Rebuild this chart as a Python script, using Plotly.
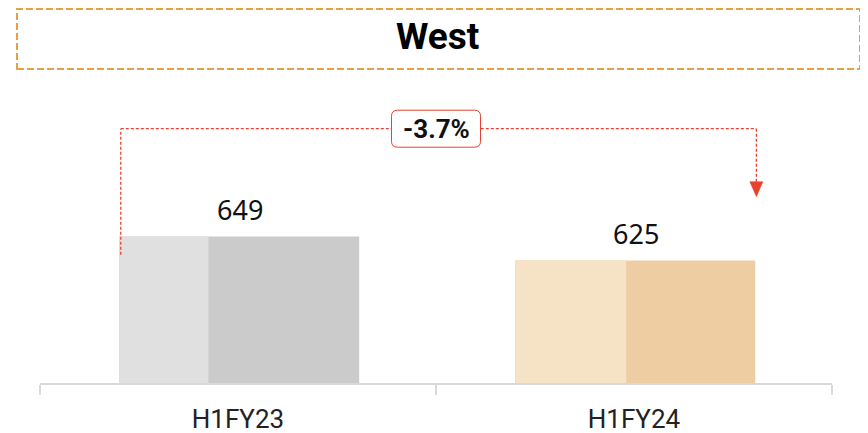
import plotly.graph_objects as go

# ---- data ----
categories = ["H1FY23", "H1FY24"]
values = [649, 625]
change_label = "-3.7%"
title_text = "West"

# ---- styling ----
dark_colors = ["#cbcbcb", "#edcda1"]
light_colors = ["#e0e0e0", "#f6e3c5"]
light_widths = [0.2255, 0.2803]
bar_offset = -0.30
bar_width = 0.606
red = "#e8412f"

y_min = 502.5
y_max = 795.5

fig = go.Figure()

# full bar (darker right part)
fig.add_trace(go.Bar(
    x=categories, y=values,
    width=[bar_width] * len(categories),
    offset=[bar_offset] * len(categories),
    marker=dict(color=dark_colors, line=dict(width=0)),
    hoverinfo="skip", showlegend=False,
))
# lighter left part overlay
fig.add_trace(go.Bar(
    x=categories, y=values,
    width=light_widths,
    offset=[bar_offset] * len(categories),
    marker=dict(color=light_colors, line=dict(width=0)),
    hoverinfo="skip", showlegend=False,
))

annotations = []
for c, v in zip(categories, values):
    annotations.append(dict(
        x=c, y=v, xref="x", yref="y", text=str(v), showarrow=False,
        yanchor="bottom", yshift=7, xshift=2,
        font=dict(family="Noto Sans", size=27, color="#111111"),
    ))

# connector geometry from data
x_left = 0 + bar_offset + 0.004
x_right = 1 + bar_offset + bar_width + 0.003
top_level = max(values) + 107.8
left_bottom = values[0] - 18.2
arrow_tip = values[1] + 63.8

shapes = []
dash = "3px,2px"
shapes.append(dict(type="line", xref="x", yref="y", x0=x_left, x1=x_left,
                   y0=left_bottom, y1=top_level, line=dict(color=red, width=1.3, dash=dash)))
shapes.append(dict(type="line", xref="x", yref="y", x0=x_left, x1=x_right,
                   y0=top_level, y1=top_level, line=dict(color=red, width=1.3, dash=dash)))
shapes.append(dict(type="line", xref="x", yref="y", x0=x_right, x1=x_right,
                   y0=top_level, y1=arrow_tip + 14, line=dict(color=red, width=1.3, dash=dash)))
# arrow head
shapes.append(dict(type="path", xref="x", yref="y", xsizemode="pixel", ysizemode="pixel",
                   xanchor=x_right, yanchor=arrow_tip,
                   path="M -6.5 15 L 6.5 15 L 0 0 Z",
                   fillcolor=red, line=dict(color=red, width=0.5)))
# rounded label box
r = 6
w2, h2 = 44.5, 18.5
box_path = (f"M {-w2 + r} {-h2} L {w2 - r} {-h2} Q {w2} {-h2} {w2} {-h2 + r} "
            f"L {w2} {h2 - r} Q {w2} {h2} {w2 - r} {h2} L {-w2 + r} {h2} "
            f"Q {-w2} {h2} {-w2} {h2 - r} L {-w2} {-h2 + r} Q {-w2} {-h2} {-w2 + r} {-h2} Z")
shapes.append(dict(type="path", xref="x", yref="y", xsizemode="pixel", ysizemode="pixel",
                   xanchor=0.5, yanchor=top_level, path=box_path,
                   fillcolor="white", line=dict(color=red, width=1)))

# title box (paper coords; plot area spans 792 x 293 px)
shapes.append(dict(type="rect", xref="paper", yref="paper",
                   x0=(17 - 40) / 792, x1=(860 - 40) / 792,
                   y0=(383 - 69) / 293, y1=(383 - 9) / 293,
                   line=dict(color="#e8a045", width=2, dash="7px,3px"),
                   fillcolor="rgba(0,0,0,0)"))

annotations.append(dict(
    x=0.5, y=top_level, xref="x", yref="y", text=f"<b>{change_label}</b>", showarrow=False,
    font=dict(family="Roboto", size=26, color="#111111"), yshift=0,
))
annotations.append(dict(
    x=(438 - 40) / 792, y=(383 - 37) / 293, xref="paper", yref="paper",
    text=f"<b>{title_text}</b>", showarrow=False, yanchor="middle", xanchor="center",
    font=dict(family="Roboto", size=37, color="#000000"),
))

fig.update_layout(
    width=860, height=425,
    margin=dict(l=32, r=36, t=82, b=50, autoexpand=False),
    paper_bgcolor="white", plot_bgcolor="white",
    barmode="overlay",
    shapes=shapes, annotations=annotations,
    xaxis=dict(
        type="category", categoryorder="array", categoryarray=categories,
        range=[-0.5, 1.5], tickson="boundaries", ticks="outside", ticklen=10,
        tickcolor="#d9d9d9", tickwidth=1.5, showline=True, linecolor="#d9d9d9",
        linewidth=1.5, showgrid=False, zeroline=False, automargin=False,
        tickfont=dict(family="Roboto", size=26, color="#222222"),
        ticklabelstandoff=12,
        fixedrange=True,
    ),
    yaxis=dict(range=[y_min, y_max], visible=False, showgrid=False, zeroline=False,
               fixedrange=True, automargin=False),
)

fig.write_html("out.html")
